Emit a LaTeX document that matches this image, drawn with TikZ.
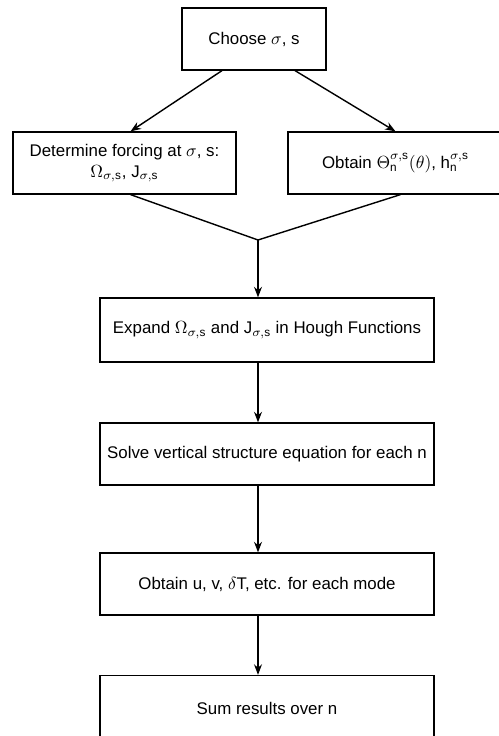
\documentclass[tikz,border=0pt]{standalone}
\usepackage{amsmath}
\usepackage{fontspec}
\setmainfont{Liberation Sans}
\usetikzlibrary{calc,arrows.meta}
\tikzset{
  stepbox/.style={draw, line width=0.7pt, minimum height=1.24cm, inner sep=1pt, align=center, font=\fontsize{9.6}{12}\selectfont},
  flow/.style={draw, line width=0.8pt, -{Stealth[length=6pt,width=4.5pt]}},
  mergeline/.style={draw, line width=0.8pt},
}
\newcommand{\sgs}{\sigma,\text{s}}

\begin{document}
\begin{tikzpicture}[x=0.02cm,y=-0.02cm]
\useasboundingbox (0,0) rectangle (498,736);
% boxes
\node[stepbox, minimum width=2.88cm] (choose) at (254,39) {Choose $\sigma$, s};
\node[stepbox, minimum width=4.46cm] (forcing) at (124.5,163) {Determine forcing at $\sigma$, s:\\ $\Omega_{\sgs}$, J$_{\sgs}$};
\node[stepbox, minimum width=4.3cm] (hough) at (395.5,163) {Obtain $\Theta_{\text{n}}^{\sgs}(\theta)$, h$_{\text{n}}^{\sgs}$};
\coordinate (merge) at (258,240);
\node[stepbox, minimum width=6.68cm, minimum height=1.28cm] (expand) at (267,330) {Expand $\Omega_{\sgs}$ and J$_{\sgs}$ in Hough Functions};
\node[stepbox, minimum width=6.68cm] (solve) at (267,454) {Solve vertical structure equation for each n};
\node[stepbox, minimum width=6.68cm] (modes) at (267,584) {Obtain u, v, $\delta$T, etc. for each mode};
\node[stepbox, minimum width=6.68cm, minimum height=1.3cm] (sum) at (267,708) {Sum results over n};
% connectors
\draw[flow] ($(choose.south)+(-32,0)$) -- ($(forcing.north)+(6,0)$);
\draw[flow] ($(choose.south)+(41,0)$) -- ($(hough.north)+(0,0)$);
\draw[mergeline] ($(forcing.south)+(6,0)$) -- (merge);
\draw[mergeline] ($(hough.south)+(5,0)$) -- (merge);
\draw[flow] (merge) -- (merge |- expand.north);
\draw[flow] (merge |- expand.south) -- (merge |- solve.north);
\draw[flow] (merge |- solve.south) -- (merge |- modes.north);
\draw[flow] (merge |- modes.south) -- (merge |- sum.north);
\end{tikzpicture}
\end{document}
